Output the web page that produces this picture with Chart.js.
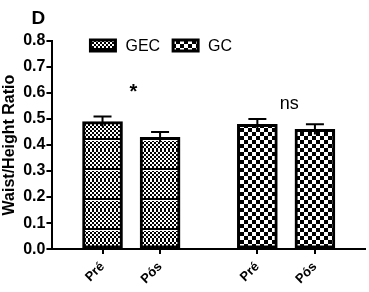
<!DOCTYPE html>
<html>
<head>
<meta charset="utf-8">
<script src="https://cdn.jsdelivr.net/npm/chart.js@4/dist/chart.umd.min.js"></script>
<style>
html,body{margin:0;padding:0;background:#fff;}
#wrap{width:369px;height:292px;}
</style>
</head>
<body>
<div id="wrap"><canvas id="c" width="369" height="292"></canvas></div>
<script>
// ---- data ----
const seriesNames = ['GEC', 'GC'];
const categories = ['Pré', 'Pós'];
const gecValues = [0.49, 0.43];
const gcValues = [0.48, 0.46];
const gecErrors = [0.02, 0.02];
const gcErrors = [0.02, 0.02];
const annotationTexts = ['*', 'ns'];
const annotationLevels = [0.58, 0.537];
const yTicks = [0, 0.1, 0.2, 0.3, 0.4, 0.5, 0.6, 0.7, 0.8];
const panelLetter = 'D';
const yTitle = 'Waist/Height Ratio';

// ---- layout helpers ----
const GROUP_STEP = 2.69;
const FONT = "'Liberation Sans', Arial, sans-serif";

function makePattern(kind) {
  const c = document.createElement('canvas');
  const ctx = c.getContext('2d');
  if (kind === 0) {
    c.width = 4; c.height = 30;
    ctx.fillStyle = '#fff'; ctx.fillRect(0, 0, 4, 30);
    ctx.fillStyle = '#000';
    for (let y = 0; y < 30; y += 2) {
      for (let x = 0; x < 4; x += 2) {
        if (((x + y) / 2) % 2 === 0) ctx.fillRect(x, y, 2, 2);
      }
    }
    ctx.fillRect(0, 18, 4, 2);
    ctx.fillStyle = '#fff'; ctx.fillRect(0, 20, 4, 1);
  } else {
    c.width = 8; c.height = 8;
    ctx.fillStyle = '#fff'; ctx.fillRect(0, 0, 8, 8);
    ctx.fillStyle = '#000';
    ctx.fillRect(0, 0, 4, 4); ctx.fillRect(4, 4, 4, 4);
  }
  return document.getElementById('c').getContext('2d').createPattern(c, 'repeat');
}

const groups = [gecValues, gcValues];
const errs = [gecErrors, gcErrors];
const xPositions = [];
const xLabels = [];
const datasets = groups.map((vals, g) => {
  const pts = vals.map((v, i) => {
    const x = g * GROUP_STEP + i;
    xPositions.push(x);
    xLabels.push(categories[i]);
    return { x: x, y: v };
  });
  return {
    label: seriesNames[g],
    data: pts,
    errors: errs[g],
    backgroundColor: makePattern(g),
    borderColor: '#000',
    borderWidth: 3,
    borderSkipped: false,
    barThickness: 40
  };
});

const errorBarPlugin = {
  id: 'errorBars',
  afterDatasetsDraw(chart) {
    const ctx = chart.ctx;
    const ys = chart.scales.y;
    ctx.save();
    ctx.strokeStyle = '#000';
    ctx.lineWidth = 2;
    chart.data.datasets.forEach((ds, di) => {
      const meta = chart.getDatasetMeta(di);
      meta.data.forEach((bar, i) => {
        const v = ds.data[i].y, e = ds.errors[i];
        const top = ys.getPixelForValue(v + e);
        const bot = ys.getPixelForValue(v) + 5;
        ctx.beginPath();
        ctx.moveTo(bar.x, bot); ctx.lineTo(bar.x, top);
        ctx.moveTo(bar.x - 9, top); ctx.lineTo(bar.x + 9, top);
        ctx.stroke();
      });
    });
    ctx.restore();
  }
};

const decorPlugin = {
  id: 'decor',
  afterDraw(chart) {
    const ctx = chart.ctx;
    const ca = chart.chartArea;
    const xs = chart.scales.x, ys = chart.scales.y;
    ctx.save();
    ctx.fillStyle = '#000';
    // panel letter
    ctx.font = 'bold 19px ' + FONT;
    ctx.textAlign = 'left';
    ctx.textBaseline = 'alphabetic';
    ctx.fillText(panelLetter, ca.left - 21, 24);
    // legend
    let lx = ca.left + 38;
    const ly = ca.top - 1;
    ctx.font = '16px ' + FONT;
    chart.data.datasets.forEach((ds) => {
      ctx.fillStyle = ds.backgroundColor;
      ctx.fillRect(lx, ly, 25, 11);
      ctx.strokeStyle = '#000';
      ctx.lineWidth = 3;
      ctx.strokeRect(lx, ly, 25, 11);
      ctx.fillStyle = '#000';
      ctx.fillText(ds.label, lx + 35, ly + 11);
      lx += 35 + ctx.measureText(ds.label).width + 13;
    });
    // significance annotations
    ctx.textAlign = 'center';
    annotationTexts.forEach((t, g) => {
      const cx = (xs.getPixelForValue(g * GROUP_STEP) + xs.getPixelForValue(g * GROUP_STEP + 1)) / 2;
      const cy = ys.getPixelForValue(annotationLevels[g]);
      ctx.font = (t === '*' ? 'bold 20px ' : '18px ') + FONT;
      ctx.fillText(t, cx + (t === '*' ? 2 : 3), cy);
    });
    ctx.restore();
  }
};

new Chart(document.getElementById('c'), {
  type: 'bar',
  data: { datasets: datasets },
  options: {
    responsive: false,
    animation: false,
    layout: { padding: { top: 41, right: 4, left: 0, bottom: 0 } },
    plugins: { legend: { display: false }, tooltip: { enabled: false } },
    datasets: { bar: { grouped: false } },
    scales: {
      x: {
        type: 'linear',
        offset: false,
        min: -0.87,
        max: GROUP_STEP + 1 + 0.87,
        afterBuildTicks(scale) { scale.ticks = xPositions.map(v => ({ value: v })); },
        ticks: {
          autoSkip: false,
          minRotation: 45, maxRotation: 45,
          color: '#000',
          padding: 5,
          font: { family: FONT, size: 13, weight: 'bold' },
          callback(value) {
            const idx = xPositions.findIndex(p => Math.abs(p - value) < 1e-6);
            return idx >= 0 ? xLabels[idx] : '';
          }
        },
        grid: { drawOnChartArea: false, offset: false, color: '#000', lineWidth: 2, tickLength: 5 },
        border: { color: '#000', width: 2 }
      },
      y: {
        min: 0, max: 0.8,
        afterBuildTicks(scale) { scale.ticks = yTicks.map(v => ({ value: v })); },
        ticks: {
          color: '#000',
          padding: 1,
          font: { family: FONT, size: 16, weight: 'bold' },
          callback(v) { return Number(v).toFixed(1); }
        },
        grid: { drawOnChartArea: false, color: '#000', lineWidth: 2, tickLength: 6 },
        border: { color: '#000', width: 2 },
        title: {
          display: true, text: yTitle, color: '#000',
          padding: { top: 0, bottom: 3 },
          font: { family: FONT, size: 16, weight: 'bold' }
        }
      }
    }
  },
  plugins: [errorBarPlugin, decorPlugin]
});
</script>
</body>
</html>
